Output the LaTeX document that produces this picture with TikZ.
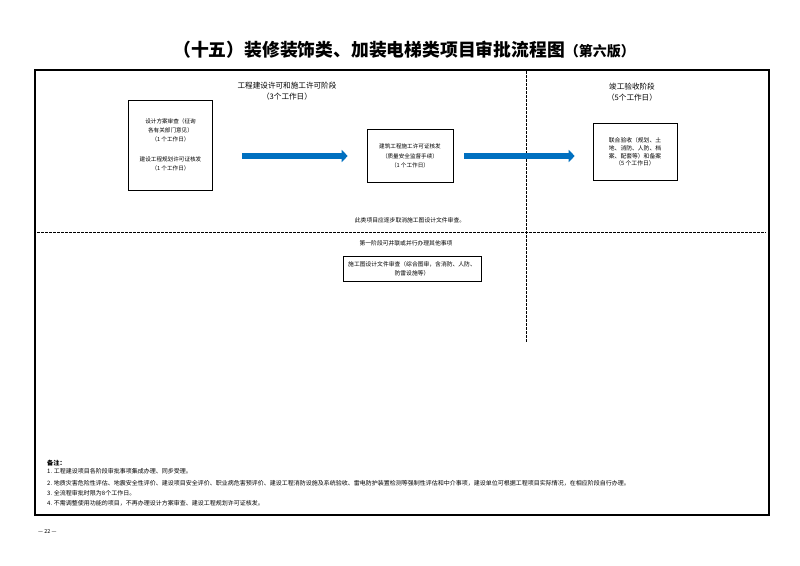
\documentclass[tikz,border=0pt]{standalone}
\usepackage{fontspec}
\setmainfont{Noto Sans CJK SC}
\usetikzlibrary{arrows.meta}
\definecolor{flowblue}{HTML}{0070C0}
\tikzset{
  sm/.style={font=\fontsize{5.8}{7.6}\selectfont, align=center, inner sep=0pt},
  hd/.style={font=\fontsize{7.6}{10.5}\selectfont, align=center, inner sep=0pt},
  boxa/.style={draw=black, line width=0.6pt, align=center, inner sep=0pt, font=\fontsize{5.6}{8.6}\selectfont},
  flow/.style={draw=flowblue, line width=6pt, -{Triangle[length=6pt,width=12pt]}},
  dsh/.style={draw=black, line width=0.6pt, dash pattern=on 2.5pt off 1.5pt},
  note/.style={font=\fontsize{6}{7}\selectfont, anchor=west, inner sep=0pt}
}
\begin{document}
\begin{tikzpicture}[x=1pt,y=-1pt]
\useasboundingbox (0,0) rectangle (800,565);
% title
\node[inner sep=0pt, anchor=center] (title) at (404,50) {\fontsize{17.8}{20}\selectfont\bfseries （十五）装修装饰类、加装电梯类项目审批流程图\fontsize{14}{16}\selectfont（第六版）};
% frame
\draw[line width=1.6pt] (35,70) rectangle (769,515);
% dashed lines
\coordinate (vt) at (526,71);
\coordinate (vb) at (526,342);
\coordinate (hl) at (37,232);
\coordinate (hr) at (766,232);
\draw[dsh] (vt) -- (vb);
\draw[dsh] (hl) -- (hr);
% headers
\node[hd] (h1) at (287,91) {工程建设许可和施工许可阶段\\（3个工作日）};
\node[hd] (h2) at (632,92) {竣工验收阶段\\（5个工作日）};
% boxes
\node[boxa, minimum width=84pt, minimum height=90pt] (b1) at (170.5,145) {设计方案审查（征询\\各有关部门意见）\\（1 个工作日）\\[12pt]建设工程规划许可证核发\\（1 个工作日）};
\node[boxa, minimum width=86pt, minimum height=53pt, font=\fontsize{5.6}{9.5}\selectfont] (b2) at (410,156) {建筑工程施工许可证核发\\（质量安全监督手续）\\（1 个工作日）};
\node[boxa, minimum width=84pt, minimum height=57pt, font=\fontsize{5.8}{7.8}\selectfont] (b3) at (635,152) {联合验收（规划、土\\地、消防、人防、档\\案、配套等）和备案\\（5 个工作日）};
\node[boxa, minimum width=138pt, minimum height=25pt, font=\fontsize{5.8}{9}\selectfont] (b4) at (412,268.5) {施工图设计文件审查（综合图审，含消防、人防、\\防雷设施等）};
% arrows
\draw[flow, shorten <=29pt, shorten >=19pt] (b1.east |- b2.west) -- (b2.west);
\draw[flow, shorten <=11pt, shorten >=18pt] (b2.east) -- (b3.west |- b2.east);
% middle texts
\node[sm] (t1) at (410,220) {此类项目应逐步取消施工图设计文件审查。};
\node[sm] (t2) at (406,243) {第一阶段可并联或并行办理其他事项};
% notes
\node[note, font=\fontsize{6.2}{7}\selectfont\bfseries] (n0) at (47,463) {备注：};
\node[note] (n1) at (47,471) {1. 工程建设项目各阶段审批事项集成办理、同步受理。};
\node[note] (n2) at (47,483) {2. 地质灾害危险性评估、地震安全性评价、建设项目安全评价、职业病危害预评价、建设工程消防设施及系统验收、雷电防护装置检测等强制性评估和中介事项，建设单位可根据工程项目实际情况，在相应阶段自行办理。};
\node[note] (n3) at (47,493) {3. 全流程审批时限为8个工作日。};
\node[note] (n4) at (47,503) {4. 不需调整使用功能的项目，不再办理设计方案审查、建设工程规划许可证核发。};
% page number
\node[note, font=\fontsize{5.5}{7}\selectfont] (pg) at (38,531) {— 22 —};
\end{tikzpicture}
\end{document}
